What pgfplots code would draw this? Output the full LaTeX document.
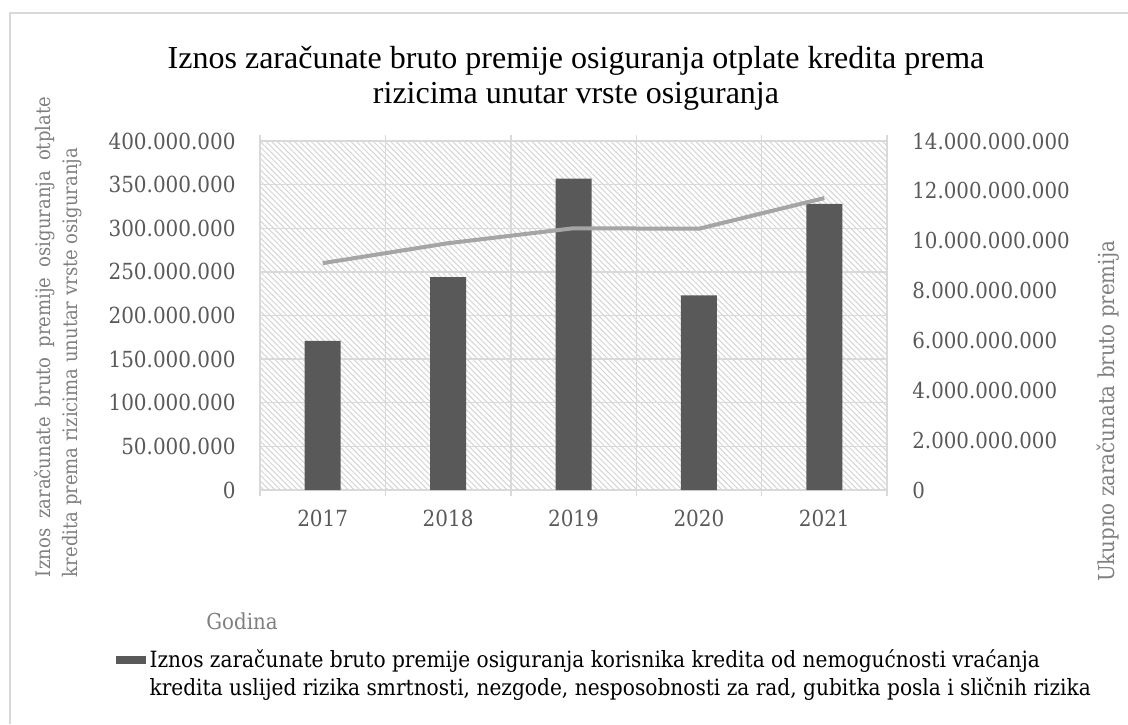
\documentclass[border=0pt]{standalone}
\usepackage{fontspec}
\setmainfont{Liberation Serif}
\newfontfamily\cf{DejaVu Serif Condensed}
\usepackage{pgfplots}
\pgfplotsset{compat=1.18}
\usetikzlibrary{patterns.meta}
\definecolor{barc}{HTML}{595959}
\definecolor{linec}{HTML}{A5A5A5}
\definecolor{gridc}{HTML}{D9D9D9}
\definecolor{hatchc}{HTML}{D4D4D4}
\definecolor{tickc}{HTML}{595959}
\definecolor{titlec}{HTML}{7F7F7F}
\definecolor{framec}{HTML}{D9D9D9}
\begin{document}
\begin{tikzpicture}[x=1pt,y=1pt]
\useasboundingbox (0,0) rectangle (564,362);
\draw[framec, line width=0.8pt] (5,0) -- (5,355.5) -- (564,355.5);
\begin{axis}[
  at={(130pt,117pt)}, anchor=south west,
  scale only axis, width=313.5pt, height=174.5pt,
  xmin=-0.5, xmax=4.5, ymin=0, ymax=400000000,
  xtick={0,1,2,3,4}, xticklabels={2017,2018,2019,2020,2021},
  minor xtick={-0.5,0.5,1.5,2.5,3.5,4.5},
  ytick={0,50000000,100000000,150000000,200000000,250000000,300000000,350000000,400000000},
  yticklabels={0,50.000.000,100.000.000,150.000.000,200.000.000,250.000.000,300.000.000,350.000.000,400.000.000},
  scaled y ticks=false,
  xminorgrids, ymajorgrids,
  grid style={gridc, line width=0.7pt},
  minor grid style={gridc, line width=0.7pt},
  axis line style={draw=none},
  major tick length=0pt, minor tick length=3pt, tick align=outside,
  minor tick style={gridc, line width=0.7pt},
  tick label style={font=\cf\fontsize{11.1}{12}\selectfont, text=tickc},
  yticklabel style={inner sep=0pt, xshift=-12pt},
  xticklabel style={inner sep=0pt, anchor=center, yshift=-14pt},
  axis background/.style={pattern={Lines[angle=-45,distance=2pt,line width=0.5pt]}, pattern color=hatchc},
  ybar, bar width=18pt,
  legend style={at={(axis description cs:-0.231,-0.445)}, anchor=north west, draw=none, fill=none, inner sep=0pt,
    font=\cf\fontsize{11.2}{14}\selectfont, text=black},
  legend cell align=left,
  legend image code/.code={\fill[barc] (0pt,-2pt) rectangle (15pt,2pt);},
]
\addplot[fill=barc, draw=none] coordinates {(0,171000000) (1,244000000) (2,357000000) (3,223000000) (4,328000000)};
\addlegendentry{\parbox[t]{490pt}{Iznos zaračunate bruto premije osiguranja korisnika kredita od nemogućnosti vraćanja\\kredita uslijed rizika smrtnosti, nezgode, nesposobnosti za rad, gubitka posla i sličnih rizika}}
\end{axis}
\begin{axis}[
  at={(130pt,117pt)}, anchor=south west,
  scale only axis, width=313.5pt, height=174.5pt,
  xmin=-0.5, xmax=4.5, ymin=0, ymax=14000000000,
  axis y line*=right, axis x line=none,
  axis line style={draw=none},
  ytick={0,2000000000,4000000000,6000000000,8000000000,10000000000,12000000000,14000000000},
  yticklabels={0,2.000.000.000,4.000.000.000,6.000.000.000,8.000.000.000,10.000.000.000,12.000.000.000,14.000.000.000},
  scaled y ticks=false,
  major tick length=0pt,
  tick label style={font=\cf\fontsize{11}{12}\selectfont, text=tickc},
  yticklabel style={anchor=west, inner sep=0pt, xshift=12.5pt},
]
\addplot[linec, line width=2pt] coordinates {(0,9100000000) (1,9900000000) (2,10500000000) (3,10480000000) (4,11710000000)};
\end{axis}
\node[align=center, font=\fontsize{16}{17.5}\selectfont, text=black] at (288,323)
  {Iznos zaračunate bruto premije osiguranja otplate kredita prema\\rizicima unutar vrste osiguranja};
\node[rotate=90, align=left, inner sep=0pt, font=\cf\fontsize{10}{13.5}\selectfont, text=titlec] at (29.25,193.5)
  {\makebox[240pt][s]{Iznos zaračunate bruto premije osiguranja otplate}\\kredita prema rizicima unutar vrste osiguranja};
\node[rotate=90, inner sep=0pt, font=\cf\fontsize{11}{12}\selectfont, text=titlec] at (554,156.25) {Ukupno zaračunata bruto premija};
\node[inner sep=0pt, font=\cf\fontsize{11}{12}\selectfont, text=titlec] at (121,51.5) {Godina};
\end{tikzpicture}
\end{document}
